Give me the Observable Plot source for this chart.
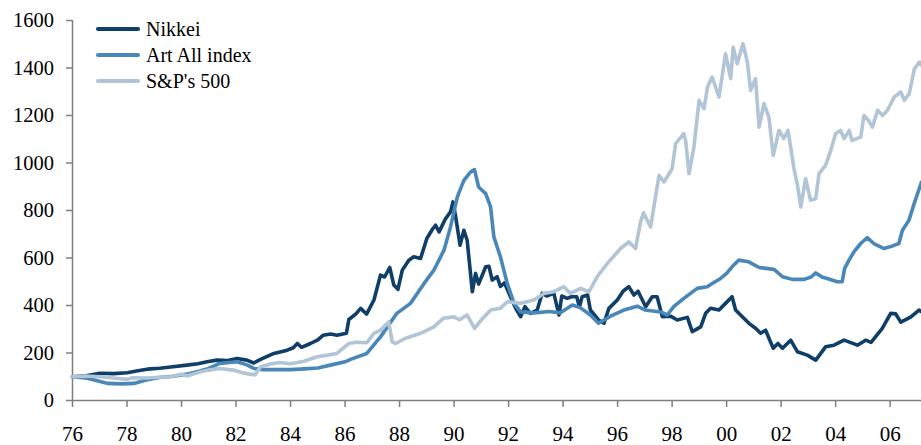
<!DOCTYPE html>
<html>
<head>
<meta charset="utf-8">
<script src="https://cdn.jsdelivr.net/npm/d3@7"></script>
<script src="https://cdn.jsdelivr.net/npm/@observablehq/plot@0.6"></script>
<style>
  html, body { margin: 0; padding: 0; background: #fff; }
  #wrap { position: relative; width: 921px; height: 445px; font-family: "Liberation Serif", "Times New Roman", serif; }
  #legend { position: absolute; left: 96px; top: 16px; font-size: 20px; color: #000; }
  .row { display: flex; align-items: center; height: 26px; }
  .sw { width: 44px; height: 4px; margin-right: 6px; border-radius: 2px; }
</style>
</head>
<body>
<div id="wrap"><div id="legend"></div></div>
<script>
const seriesNames = ["Nikkei", "Art All index", "S&P's 500"];
const seriesColors = ["#0f3f68", "#4a87b9", "#b1c5d7"];
const xTicks = [1976, 1978, 1980, 1982, 1984, 1986, 1988, 1990, 1992, 1994, 1996, 1998, 2000, 2002, 2004, 2006];
const xTickLabels = ["76", "78", "80", "82", "84", "86", "88", "90", "92", "94", "96", "98", "00", "02", "04", "06"];
const yTicks = [0, 200, 400, 600, 800, 1000, 1200, 1400, 1600];

const nikkei = [
[1976.0,100],[1976.5,104],[1977.0,115],[1977.5,113],[1978.0,117],[1978.4,125],[1978.74,132],[1979.2,136],[1979.6,141],[1980.2,149],[1980.6,155],[1980.94,163],[1981.3,170],[1981.7,168],[1982.04,177],[1982.4,170],[1982.65,158],[1982.9,173],[1983.39,198],[1983.88,212],[1984.1,222],[1984.25,240],[1984.4,224],[1984.73,240],[1985.0,255],[1985.2,275],[1985.47,280],[1985.7,275],[1986.05,283],[1986.14,341],[1986.4,365],[1986.57,388],[1986.79,364],[1987.06,423],[1987.3,528],[1987.45,520],[1987.64,560],[1987.79,486],[1987.94,468],[1988.1,549],[1988.34,591],[1988.52,605],[1988.77,598],[1989.0,682],[1989.2,720],[1989.32,738],[1989.45,710],[1989.69,766],[1989.87,794],[1989.96,836],[1990.06,773],[1990.22,654],[1990.36,717],[1990.48,675],[1990.67,458],[1990.79,535],[1990.9,490],[1991.16,563],[1991.28,565],[1991.4,507],[1991.58,521],[1991.7,480],[1991.85,495],[1992.07,437],[1992.26,388],[1992.44,353],[1992.6,395],[1992.8,367],[1993.05,381],[1993.23,451],[1993.4,440],[1993.66,451],[1993.85,360],[1993.95,440],[1994.15,430],[1994.3,437],[1994.5,437],[1994.6,395],[1994.7,437],[1994.9,444],[1995.0,381],[1995.3,339],[1995.5,325],[1995.68,388],[1995.99,423],[1996.2,460],[1996.41,479],[1996.6,444],[1996.75,460],[1997.03,395],[1997.27,437],[1997.45,437],[1997.64,353],[1997.94,355],[1998.19,339],[1998.56,350],[1998.74,290],[1999.05,310],[1999.23,367],[1999.41,388],[1999.72,381],[1999.96,409],[2000.2,437],[2000.33,381],[2000.51,360],[2000.82,325],[2001.06,304],[2001.25,283],[2001.43,296],[2001.71,220],[2001.88,240],[2002.05,220],[2002.35,254],[2002.6,205],[2002.96,191],[2003.27,170],[2003.63,226],[2003.94,233],[2004.31,254],[2004.8,233],[2005.1,254],[2005.3,245],[2005.71,304],[2006.02,367],[2006.2,365],[2006.39,330],[2006.75,351],[2007.06,381],[2007.15,374]
];

const artAll = [
[1976.0,100],[1976.5,95],[1976.8,86],[1977.3,72],[1977.8,70],[1978.25,72],[1978.7,86],[1979.2,97],[1979.7,102],[1980.2,111],[1980.7,125],[1981.0,135],[1981.4,156],[1982.04,163],[1982.4,150],[1982.65,135],[1983.0,130],[1983.5,130],[1984.0,130],[1984.5,133],[1985.0,137],[1985.5,150],[1986.0,163],[1986.2,173],[1986.8,198],[1987.3,268],[1987.9,367],[1988.4,409],[1988.9,493],[1989.26,549],[1989.63,633],[1989.87,731],[1990.12,857],[1990.36,927],[1990.6,962],[1990.75,972],[1990.9,899],[1991.16,871],[1991.34,815],[1991.46,689],[1991.7,605],[1991.95,493],[1992.2,409],[1992.44,373],[1992.93,369],[1993.5,375],[1993.9,369],[1994.34,402],[1994.64,390],[1995.0,360],[1995.3,325],[1995.74,355],[1996.23,381],[1996.72,397],[1997.0,381],[1997.58,373],[1997.82,360],[1998.06,395],[1998.43,430],[1998.92,472],[1999.29,479],[1999.5,495],[1999.78,514],[2000.0,535],[2000.2,563],[2000.44,591],[2000.81,584],[2001.19,560],[2001.74,552],[2002.05,521],[2002.41,510],[2002.84,510],[2003.1,520],[2003.27,537],[2003.5,520],[2003.69,514],[2004.06,500],[2004.24,500],[2004.33,556],[2004.49,591],[2004.67,626],[2004.92,661],[2005.16,686],[2005.4,661],[2005.77,640],[2006.07,650],[2006.32,661],[2006.45,717],[2006.69,759],[2006.88,829],[2007.15,920]
];

const sp500 = [
[1976.0,100],[1976.5,103],[1977.0,100],[1977.5,95],[1978.0,89],[1978.2,96],[1978.7,95],[1979.2,98],[1979.6,100],[1980.0,111],[1980.2,103],[1980.7,121],[1981.0,128],[1981.4,135],[1981.9,128],[1982.2,118],[1982.5,111],[1982.7,108],[1982.9,142],[1983.3,155],[1983.6,160],[1984.0,155],[1984.5,165],[1984.98,184],[1985.3,190],[1985.7,198],[1986.14,240],[1986.4,245],[1986.8,243],[1987.06,283],[1987.3,296],[1987.6,331],[1987.73,247],[1987.85,240],[1988.2,261],[1988.77,283],[1989.26,310],[1989.6,346],[1989.99,352],[1990.2,340],[1990.48,360],[1990.75,304],[1991.0,339],[1991.34,381],[1991.7,388],[1991.95,416],[1992.44,409],[1992.93,423],[1993.3,451],[1993.66,458],[1994.03,479],[1994.27,451],[1994.64,472],[1994.95,458],[1995.25,521],[1995.62,577],[1996.11,640],[1996.41,668],[1996.66,640],[1996.84,752],[1996.95,790],[1997.21,731],[1997.52,948],[1997.7,920],[1998.0,976],[1998.13,1082],[1998.43,1124],[1998.5,1090],[1998.62,955],[1998.8,1067],[1998.99,1264],[1999.17,1229],[1999.3,1320],[1999.47,1362],[1999.72,1278],[1999.96,1460],[2000.15,1355],[2000.24,1488],[2000.39,1418],[2000.6,1502],[2000.76,1425],[2000.88,1306],[2001.06,1355],[2001.19,1151],[2001.37,1250],[2001.55,1193],[2001.71,1032],[2001.92,1137],[2002.1,1103],[2002.25,1137],[2002.35,1067],[2002.47,976],[2002.6,906],[2002.72,815],[2002.9,934],[2003.08,843],[2003.27,850],[2003.39,955],[2003.63,990],[2003.82,1053],[2004.0,1124],[2004.18,1137],[2004.31,1103],[2004.5,1137],[2004.6,1095],[2004.92,1109],[2005.04,1200],[2005.2,1180],[2005.35,1151],[2005.54,1222],[2005.72,1200],[2005.9,1222],[2006.15,1278],[2006.39,1299],[2006.52,1264],[2006.7,1292],[2006.89,1397],[2007.07,1425],[2007.15,1411]
];

const allSeries = [nikkei, artAll, sp500];
const rows = [];
allSeries.forEach((s, i) => s.forEach(([x, v]) => rows.push({series: seriesNames[i], x, v})));

const serif = "Liberation Serif";
const axisColor = "#7f7f7f";
const chart = Plot.plot({
  width: 921,
  height: 445,
  marginLeft: 72,
  marginRight: 0,
  marginTop: 20,
  marginBottom: 45,
  style: {background: "#fff"},
  x: {domain: [1976, 2007.15]},
  y: {domain: [0, 1600]},
  color: {domain: seriesNames, range: seriesColors},
  marks: [
    Plot.axisY({ticks: yTicks, tickSize: 6, stroke: axisColor, strokeWidth: 1.5, label: null, tickFormat: () => ""}),
    Plot.axisX({ticks: xTicks, tickSize: 7, stroke: axisColor, strokeWidth: 1.5, label: null, tickFormat: () => ""}),
    Plot.text(yTicks, {x: 1976, y: d => d, text: d => String(d), textAnchor: "end", lineAnchor: "middle", dx: -18.5, fontSize: 20.5, fontFamily: serif, fill: "#000"}),
    Plot.text(xTicks, {x: d => d, y: 0, text: (d, i) => xTickLabels[i], textAnchor: "middle", lineAnchor: "middle", dy: 34, fontSize: 21, fontFamily: serif, fill: "#000"}),
    Plot.ruleX([1976], {y1: 0, y2: 1600, stroke: axisColor, strokeWidth: 1.5}),
    Plot.ruleY([0], {stroke: axisColor, strokeWidth: 1.5}),
    Plot.line(rows, {x: "x", y: "v", z: "series", stroke: "series", strokeWidth: 3.6, strokeLinejoin: "round", strokeLinecap: "round"})
  ]
});
document.getElementById("wrap").prepend(chart);

const legend = document.getElementById("legend");
seriesNames.forEach((n, i) => {
  const r = document.createElement("div");
  r.className = "row";
  r.innerHTML = `<div class="sw" style="background:${seriesColors[i]}"></div><span>${n.replace("&", "&amp;")}</span>`;
  legend.appendChild(r);
});
</script>
</body>
</html>
